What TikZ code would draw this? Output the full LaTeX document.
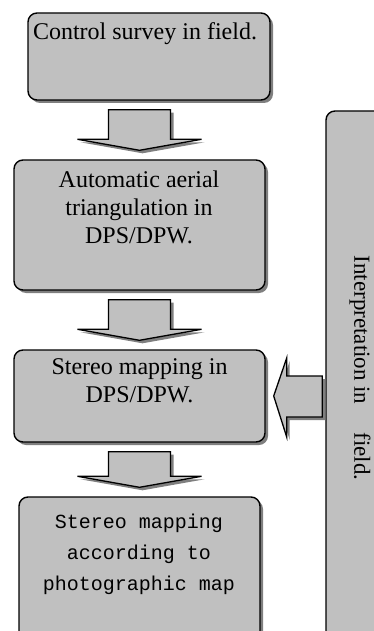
\documentclass[tikz,border=0pt]{standalone}
\usepackage{fontspec}
\setmainfont{Liberation Serif}
\setmonofont{Liberation Mono}
\usetikzlibrary{calc,shadows}
\definecolor{kasten}{HTML}{C0C0C0}
\definecolor{schatten}{HTML}{7F7F7F}
\tikzset{
  kastenbox/.style={draw=black,line width=1.4pt,fill=kasten,rounded corners=9pt,inner sep=0pt,
    drop shadow={shadow xshift=3pt,shadow yshift=-3pt,fill=schatten,opacity=1}},
  pfeilform/.style={draw=black,line width=1.3pt,fill=kasten,line join=miter,
    drop shadow={shadow xshift=3pt,shadow yshift=-3pt,fill=schatten,opacity=1}},
  serifschrift/.style={font=\fontsize{24}{28}\selectfont,align=center,inner sep=0pt,anchor=north},
  monoschrift/.style={font=\ttfamily\fontsize{20}{31}\selectfont,align=center,inner sep=0pt,anchor=north}
}
%Blockpfeil nach unten: von Kasten #1 zu Kasten #2
\newcommand{\pfeilrunter}[2]{%
  \path[pfeilform] let \p1=(#1.south), \p2=(#2.north) in
    (\x2-31pt,\y1-9pt) -- (\x2+31pt,\y1-9pt) -- (\x2+31pt,\y2+20pt) -- (\x2+62pt,\y2+20pt)
    -- (\x2,\y2+9pt) -- (\x2-62pt,\y2+20pt) -- (\x2-31pt,\y2+20pt) -- cycle;}
%Blockpfeil nach links
\newcommand{\pfeillinks}[2]{%
  \path[pfeilform] let \p1=(#1.west), \p2=(#2.east) in
    (\x1-3pt,\y2+20pt) -- (\x2+21pt,\y2+20pt) -- (\x2+21pt,\y2+38pt) -- (\x2+8pt,\y2)
    -- (\x2+21pt,\y2-41pt) -- (\x2+21pt,\y2-21pt) -- (\x1-3pt,\y2-21pt) -- cycle;}
\begin{document}
\begin{tikzpicture}[x=1pt,y=1pt]
  \useasboundingbox (0,0) rectangle (374,-631);
  \clip (0,0) rectangle (374,-631);
%Kaesten links
  \node[kastenbox,minimum width=242pt,minimum height=87pt] (survey) at (149,-56.5) {};
  \node[kastenbox,minimum width=251pt,minimum height=130pt] (triang) at (139.5,-225) {};
  \node[kastenbox,minimum width=251pt,minimum height=92pt] (stereo) at (139.5,-396) {};
  \node[kastenbox,minimum width=241pt,minimum height=148pt] (photomap) at (139.5,-571) {};
%Kasten rechts
  \node[kastenbox,minimum width=74pt,minimum height=534pt] (interp) at (363,-378) {};
%Texte
  \node[serifschrift] (survey text) at (145,-22.5) {Control survey in field.};
  \node[serifschrift] (triang text) at (139,-170.5) {Automatic aerial\\triangulation in\\DPS/DPW.};
  \node[serifschrift] (stereo text) at (139.5,-358.5) {Stereo mapping in\\DPS/DPW.};
  \node[monoschrift] (photomap text) at (139,-514) {Stereo mapping\\according to\\photographic map};
  \node[font=\fontsize{23}{27}\selectfont,rotate=-90,inner sep=0pt] (interp text) at (360,-368)
    {Interpretation in\hspace{28pt}field.};
%Pfeile
  \pfeilrunter{survey}{triang}
  \pfeilrunter{triang}{stereo}
  \pfeilrunter{stereo}{photomap}
  \pfeillinks{interp}{stereo}
\end{tikzpicture}
\end{document}
